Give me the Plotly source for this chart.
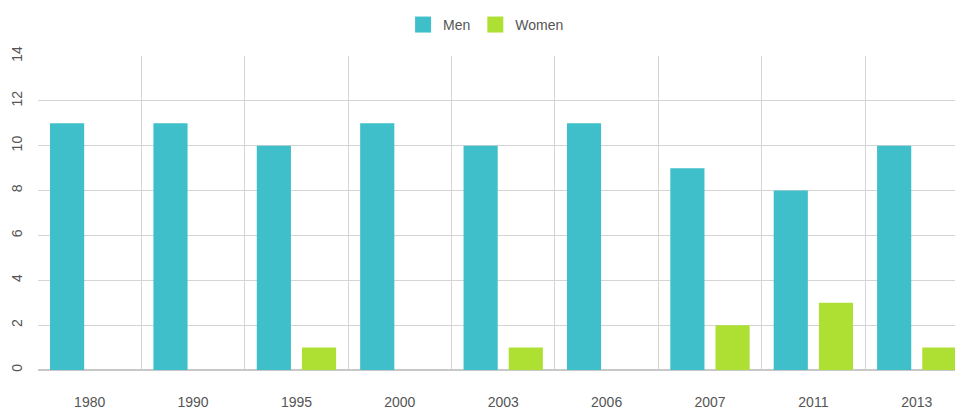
import plotly.graph_objects as go

years = ["1980", "1990", "1995", "2000", "2003", "2006", "2007", "2011", "2013"]
men = [11, 11, 10, 11, 10, 11, 9, 8, 10]
women = [0, 0, 1, 0, 1, 0, 2, 3, 1]

MEN_C = "#3ebfca"
WOMEN_C = "#aee033"

fig = go.Figure()
fig.add_trace(go.Bar(x=years, y=men, name="Men", marker=dict(color=MEN_C, line=dict(width=0)),
                     showlegend=False))
fig.add_trace(go.Bar(x=years, y=women, name="Women", marker=dict(color=WOMEN_C, line=dict(width=0)),
                     showlegend=False))
# legend entries with larger square swatches
fig.add_trace(go.Scatter(x=[None], y=[None], mode="markers", name="Men",
                         marker=dict(symbol="square", size=16, color=MEN_C)))
fig.add_trace(go.Scatter(x=[None], y=[None], mode="markers", name="Women",
                         marker=dict(symbol="square", size=16, color=WOMEN_C)))

fig.update_layout(
    width=955, height=409,
    margin=dict(l=38, r=0, t=56, b=39, autoexpand=False),
    paper_bgcolor="white", plot_bgcolor="white",
    barmode="group", bargap=0.126, bargroupgap=0.244,
    font=dict(family="Liberation Sans, Arial", size=14, color="#555555"),
    showlegend=True,
    legend=dict(orientation="h", x=0.509, xanchor="center", xref="container",
                y=0.939, yanchor="middle", yref="container",
                font=dict(size=14, color="#555555"), itemsizing="trace"),
    xaxis=dict(type="category", range=[-0.5, 8.37], tickson="boundaries", showgrid=True,
               gridcolor="#d4d4d4", gridwidth=1, ticks="", showline=False, zeroline=False,
               ticklabelstandoff=22, automargin=False),
    yaxis=dict(range=[0, 14], dtick=2, tickangle=-90, showgrid=True, gridcolor="#d4d4d4",
               zeroline=True, zerolinecolor="#c8c8c8", zerolinewidth=1.5, showline=False,
               ticks="", ticklabelstandoff=12, automargin=False),
)
fig.write_html("out.html", config={"displayModeBar": False},
               post_script="document.body.style.margin='0';document.body.style.overflow='hidden';")
